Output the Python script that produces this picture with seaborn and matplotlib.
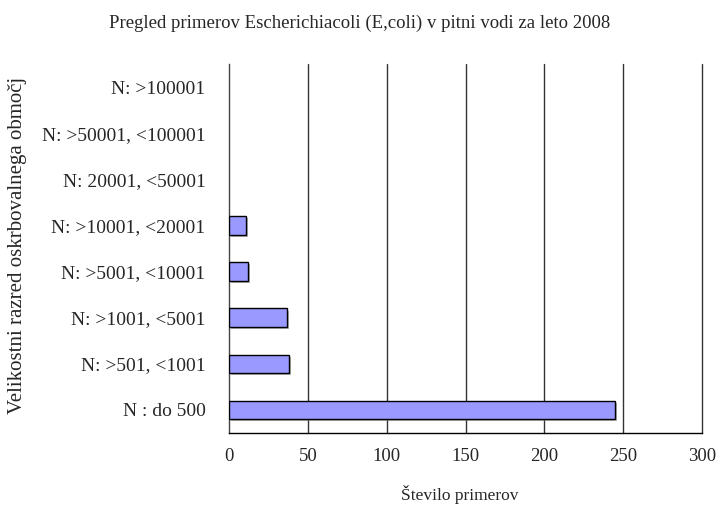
import pandas as pd
import matplotlib.pyplot as plt
import matplotlib.patheffects as pe
import seaborn as sns
import numpy as np

# Velikostni razredi (od zgoraj navzdol) in stevilo primerov
razredi = ['N: >100001', 'N: >50001, <100001', 'N: 20001, <50001',
           'N: >10001, <20001', 'N: >5001, <10001', 'N: >1001, <5001',
           'N: >501, <1001', 'N : do 500']
primeri = [0, 0, 0, 11, 12, 37, 38, 245]
x_ticks = [0, 50, 100, 150, 200, 250, 300]

data = pd.DataFrame({'razred': razredi, 'primeri': primeri})

sns.set_style('white')
plt.rcParams['font.family'] = ['Liberation Serif', 'DejaVu Serif']

fig = plt.figure(figsize=(7.19, 5.12), dpi=100)
ax = fig.add_axes([0.3185, 0.1543, 0.6579, 0.7207])

sns.barplot(data=data, x='primeri', y='razred', order=razredi, orient='h',
            color='#9999FF', saturation=1, edgecolor='black', linewidth=1,
            width=0.4, ax=ax, zorder=3)
for patch in ax.patches:
    if patch.get_width() == 0:
        patch.set_visible(False)
    else:
        patch.set_path_effects([pe.SimplePatchShadow(offset=(1.5, -1.5), shadow_rgbFace='#808080', alpha=0.6),
                                pe.Normal()])

ax.set_xlim(0, 300)
ax.set_ylim(len(razredi) - 0.5, -0.5)
ax.set_xticks(x_ticks)
ax.set_xticklabels([str(t) for t in x_ticks], fontsize=13.5)
ax.tick_params(axis='x', direction='inout', length=8, width=1, color='black', pad=7)

# y ticks: labels at centers, tick marks at boundaries
ax.set_yticks(range(len(razredi)))
ax.set_yticklabels(razredi, fontsize=14)
ax.tick_params(axis='y', which='major', length=0, pad=17)
ax.set_yticks(np.arange(-0.5, len(razredi), 1), minor=True)
ax.tick_params(axis='y', which='minor', direction='out', length=5, width=1, color='#333333')

for x in x_ticks[1:]:
    ax.axvline(x, color='#333333', linewidth=1, zorder=1, clip_on=False)

for s in ['top', 'right']:
    ax.spines[s].set_visible(False)
ax.spines['left'].set_color('#444444')
ax.spines['bottom'].set_color('black')
ax.spines['left'].set_linewidth(1)
ax.spines['bottom'].set_linewidth(1)

ax.set_xlabel('')
ax.set_ylabel('')
fig.text(460 / 719, 1 - 495 / 512, 'Število primerov', ha='center', va='center', fontsize=12.5)
fig.text(18 / 719, 1 - 245 / 512, 'Velikostni razred oskrbovalnega območj',
         ha='center', va='center', rotation=90, fontsize=15)
fig.text(0.5, 1 - 23 / 512, 'Pregled primerov Escherichiacoli (E,coli) v pitni vodi za leto 2008',
         ha='center', va='center', fontsize=13.5)

fig.savefig('out.png', dpi=100)
